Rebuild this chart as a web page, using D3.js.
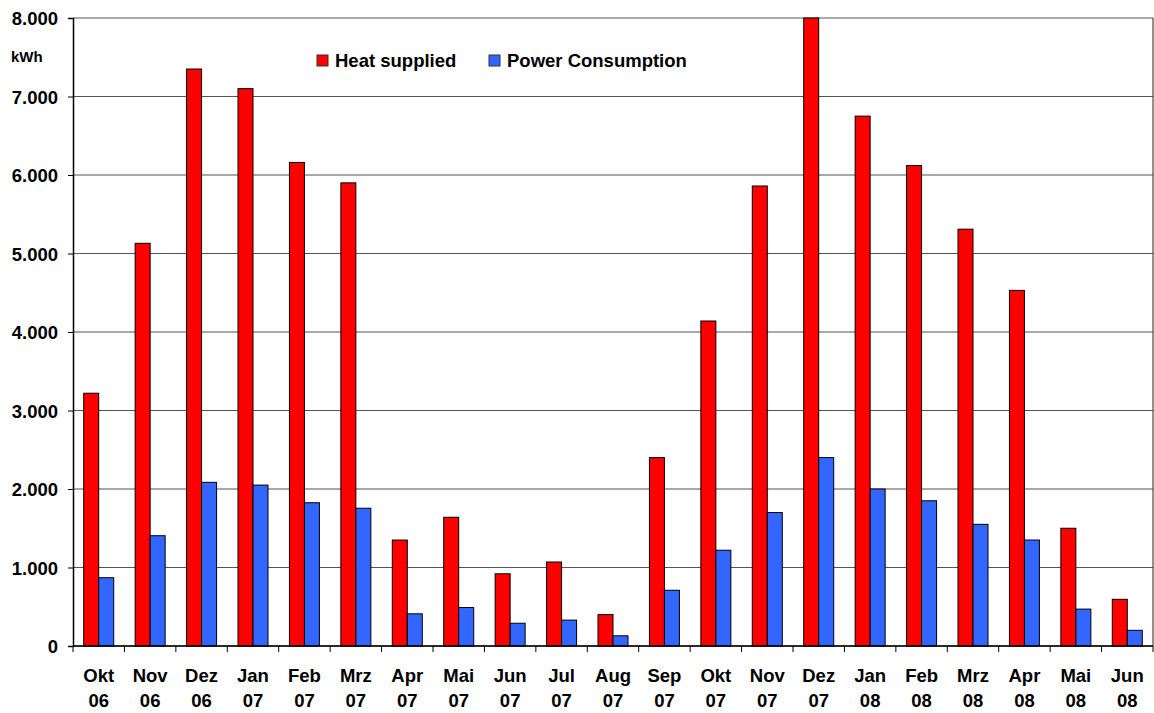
<!DOCTYPE html>
<html>
<head>
<meta charset="utf-8">
<script src="https://cdn.jsdelivr.net/npm/d3@7"></script>
<style>
  body { margin: 0; background: #fff; }
  svg { display: block; font-family: "Liberation Sans", Arial, sans-serif; }
</style>
</head>
<body>
<div id="chart"></div>
<script>
const months = ["Okt", "Nov", "Dez", "Jan", "Feb", "Mrz", "Apr", "Mai", "Jun", "Jul", "Aug", "Sep",
  "Okt", "Nov", "Dez", "Jan", "Feb", "Mrz", "Apr", "Mai", "Jun"];
const years = ["06", "06", "06", "07", "07", "07", "07", "07", "07", "07", "07", "07",
  "07", "07", "07", "08", "08", "08", "08", "08", "08"];
const heatSupplied = [3220, 5130, 7350, 7100, 6160, 5900, 1350, 1640, 920, 1070, 400, 2400,
  4140, 5860, 8000, 6750, 6120, 5310, 4530, 1500, 595];
const powerConsumption = [870, 1405, 2085, 2050, 1825, 1755, 410, 490, 290, 330, 130, 710,
  1220, 1700, 2400, 2000, 1850, 1550, 1350, 470, 200];
const seriesNames = ["Heat supplied", "Power Consumption"];
const yTicks = [0, 1000, 2000, 3000, 4000, 5000, 6000, 7000, 8000];

const colors = ["#ff0000", "#3366ff"];
const W = 1154, H = 713;
const margin = { top: 18, right: 1, bottom: 67, left: 73 };
const width = W - margin.left - margin.right;
const height = H - margin.top - margin.bottom;

const svg = d3.select("#chart").append("svg")
  .attr("width", W)
  .attr("height", H);

const g = svg.append("g")
  .attr("transform", `translate(${margin.left}, ${margin.top})`);

const keys = months.map((m, i) => i);
const x = d3.scaleBand().domain(keys).range([0, width]).paddingInner(0).paddingOuter(0);
const x1 = d3.scaleBand().domain([0, 1]).range([0, 30]);
const y = d3.scaleLinear().domain([0, 8000]).range([height, 0]);

// gridlines
g.append("g")
  .selectAll("line")
  .data(yTicks)
  .join("line")
  .attr("x1", 0)
  .attr("x2", width)
  .attr("y1", d => y(d))
  .attr("y2", d => y(d))
  .attr("stroke", "#555")
  .attr("stroke-width", 1.2);

// right frame
g.append("line")
  .attr("x1", width).attr("x2", width)
  .attr("y1", 0).attr("y2", height)
  .attr("stroke", "#222").attr("stroke-width", 1);

// bars
const offset = (x.bandwidth() - 30) / 2;
const data = keys.map(i => ({ i, vals: [heatSupplied[i], powerConsumption[i]] }));
const groups = g.append("g")
  .selectAll("g")
  .data(data)
  .join("g")
  .attr("transform", d => `translate(${x(d.i) + offset}, 0)`);

groups.selectAll("rect")
  .data(d => d.vals.map((v, s) => ({ v, s })))
  .join("rect")
  .attr("x", d => x1(d.s))
  .attr("y", d => y(d.v))
  .attr("width", x1.bandwidth())
  .attr("height", d => height - y(d.v))
  .attr("fill", d => colors[d.s])
  .attr("stroke", "#000")
  .attr("stroke-width", 1);

// y axis
const yAxis = d3.axisLeft(y)
  .tickValues(yTicks)
  .tickSize(5)
  .tickFormat(d => d3.format(",")(d).replace(/,/g, "."));

const gY = g.append("g").call(yAxis);
gY.select(".domain").attr("stroke", "#000").attr("stroke-width", 1.5);
gY.selectAll(".tick line").attr("stroke", "#000");
gY.selectAll(".tick text")
  .attr("x", -15)
  .attr("dy", "0.36em")
  .attr("fill", "#000")
  .style("font-size", "18.5px")
  .style("font-weight", "bold");

// x axis (ticks at band boundaries)
const gX = g.append("g").attr("transform", `translate(0, ${height})`);
gX.append("line")
  .attr("x1", 0).attr("x2", width)
  .attr("stroke", "#000").attr("stroke-width", 1.5);
gX.selectAll(".xt")
  .data(keys.concat([keys.length]))
  .join("line")
  .attr("class", "xt")
  .attr("x1", d => d * x.step())
  .attr("x2", d => d * x.step())
  .attr("y1", 0).attr("y2", 6)
  .attr("stroke", "#000");

const labels = gX.selectAll(".xl")
  .data(keys)
  .join("text")
  .attr("class", "xl")
  .attr("x", d => x(d) + x.bandwidth() / 2)
  .attr("text-anchor", "middle")
  .style("font-size", "18.5px")
  .style("font-weight", "bold")
  .attr("fill", "#000");
labels.append("tspan").attr("x", d => x(d) + x.bandwidth() / 2).attr("y", 36).text(d => months[d]);
labels.append("tspan").attr("x", d => x(d) + x.bandwidth() / 2).attr("y", 61).text(d => years[d]);

// unit label
svg.append("text")
  .attr("x", 11)
  .attr("y", 62)
  .style("font-size", "15px")
  .style("font-weight", "bold")
  .text("kWh");

// legend
const legendX = [317, 489];
const legend = svg.append("g")
  .selectAll("g")
  .data(seriesNames)
  .join("g")
  .attr("transform", (d, i) => `translate(${legendX[i]}, 55)`);
legend.append("rect")
  .attr("width", 11).attr("height", 11)
  .attr("fill", (d, i) => colors[i])
  .attr("stroke", "#333");
legend.append("text")
  .attr("x", 18)
  .attr("y", 12)
  .style("font-size", "18.5px")
  .style("font-weight", "bold")
  .text(d => d);
</script>
</body>
</html>
